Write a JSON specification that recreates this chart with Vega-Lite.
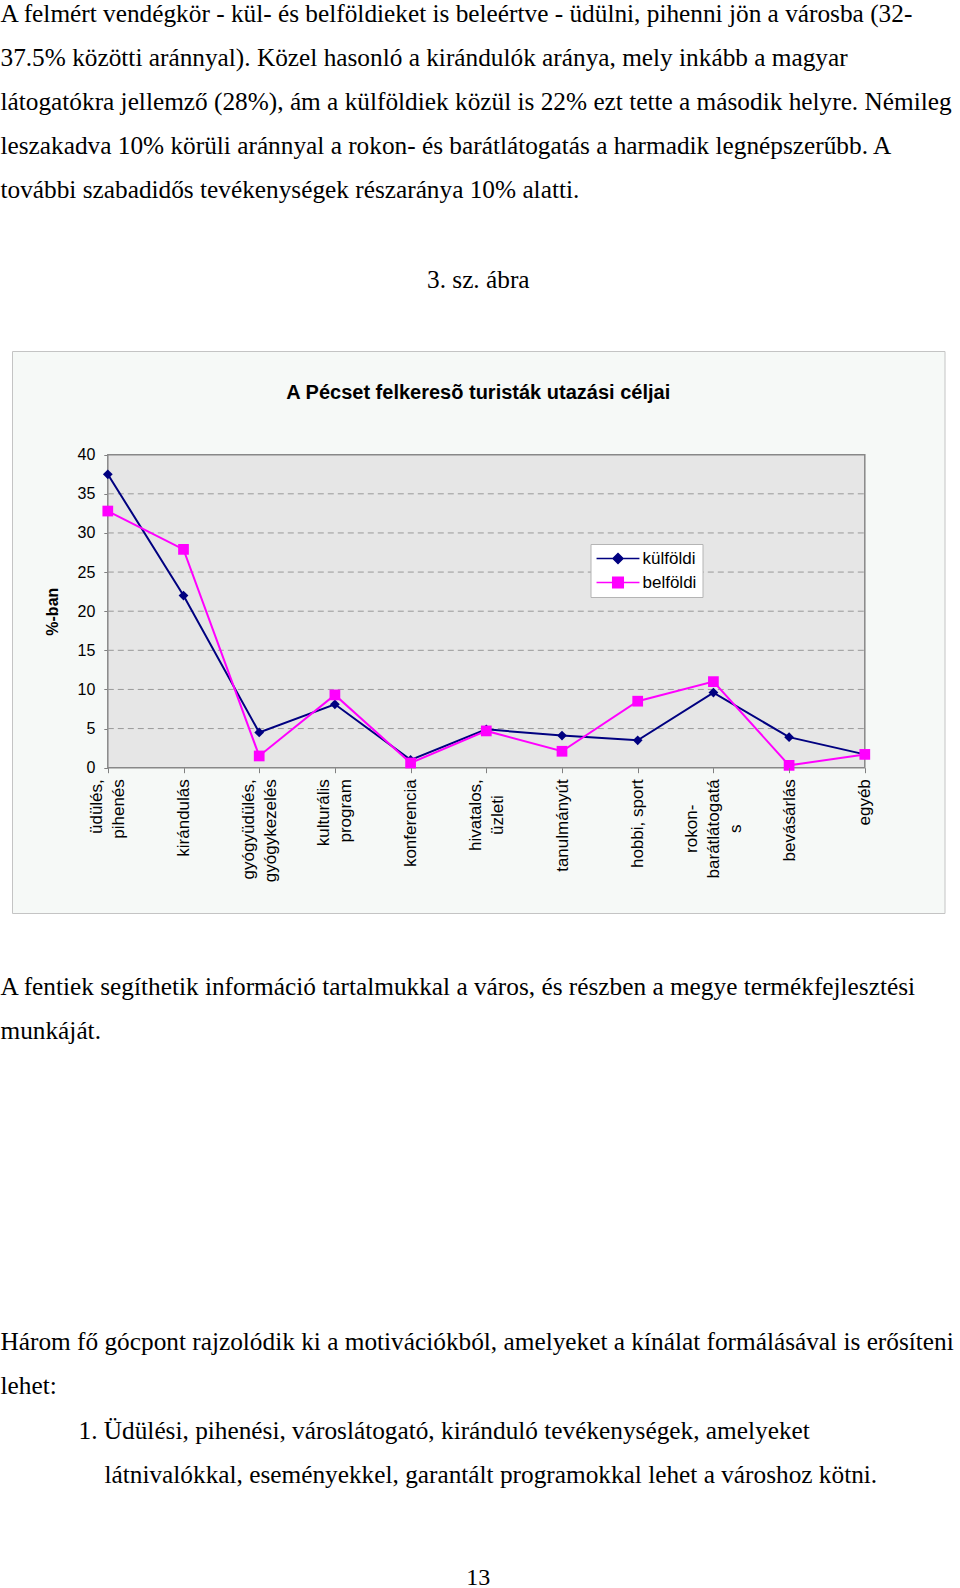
{
  "$schema": "https://vega.github.io/schema/vega-lite/v6.json",
  "padding": {"left": 0, "top": 1, "right": 0, "bottom": 0},
  "background": "white",
  "config": {"view": {"stroke": null}, "font": "Liberation Sans", "concat": {"spacing": 0}},
  "resolve": {"legend": {"color": "independent"}},
  "datasets": {
    "turizmus": [
      {"cel": "üdülés, pihenés", "sorozat": "külföldi", "ertek": 37.5},
      {"cel": "kirándulás", "sorozat": "külföldi", "ertek": 22.0},
      {"cel": "gyógyüdülés, gyógykezelés", "sorozat": "külföldi", "ertek": 4.5},
      {"cel": "kulturális program", "sorozat": "külföldi", "ertek": 8.1},
      {"cel": "konferencia", "sorozat": "külföldi", "ertek": 1.0},
      {"cel": "hivatalos, üzleti", "sorozat": "külföldi", "ertek": 4.9},
      {"cel": "tanulmányút", "sorozat": "külföldi", "ertek": 4.1},
      {"cel": "hobbi, sport", "sorozat": "külföldi", "ertek": 3.5},
      {"cel": "rokon-barátlátogatás", "sorozat": "külföldi", "ertek": 9.6},
      {"cel": "bevásárlás", "sorozat": "külföldi", "ertek": 3.9},
      {"cel": "egyéb", "sorozat": "külföldi", "ertek": 1.7},
      {"cel": "üdülés, pihenés", "sorozat": "belföldi", "ertek": 32.8},
      {"cel": "kirándulás", "sorozat": "belföldi", "ertek": 27.9},
      {"cel": "gyógyüdülés, gyógykezelés", "sorozat": "belföldi", "ertek": 1.5},
      {"cel": "kulturális program", "sorozat": "belföldi", "ertek": 9.3},
      {"cel": "konferencia", "sorozat": "belföldi", "ertek": 0.6},
      {"cel": "hivatalos, üzleti", "sorozat": "belföldi", "ertek": 4.7},
      {"cel": "tanulmányút", "sorozat": "belföldi", "ertek": 2.1},
      {"cel": "hobbi, sport", "sorozat": "belföldi", "ertek": 8.5},
      {"cel": "rokon-barátlátogatás", "sorozat": "belföldi", "ertek": 11.0},
      {"cel": "bevásárlás", "sorozat": "belföldi", "ertek": 0.3},
      {"cel": "egyéb", "sorozat": "belföldi", "ertek": 1.7}
    ],
    "racs": [{"g": 5}, {"g": 10}, {"g": 15}, {"g": 20}, {"g": 25}, {"g": 30}, {"g": 35}],
    "ures": []
  },
  "vconcat": [
    {
      "width": 932.5, "height": 64,
      "data": {"name": "ures"},
      "mark": "text",
      "title": {
        "text": [
          "A felmért vendégkör - kül- és belföldieket is beleértve - üdülni, pihenni jön a városba (32-",
          "37.5% közötti aránnyal). Közel hasonló a kirándulók aránya, mely inkább a magyar",
          "látogatókra jellemző (28%), ám a külföldiek közül is 22% ezt tette a második helyre. Némileg",
          "leszakadva 10% körüli aránnyal a rokon- és barátlátogatás a harmadik legnépszerűbb. A",
          "további szabadidős tevékenységek részaránya 10% alatti."
        ],
        "anchor": "start", "frame": "group", "dx": -11.5, "offset": 0,
        "font": "Liberation Serif", "fontSize": 25.3, "fontWeight": "normal",
        "lineHeight": 44, "color": "black"
      }
    },
    {
      "width": 932.5, "height": 562,
      "view": {"fill": "#f6f9f7", "stroke": "#c4c4c4", "strokeWidth": 1},
      "title": {
        "text": "3. sz. ábra",
        "subtitle": "A Pécset felkeresõ turisták utazási céljai",
        "anchor": "middle", "frame": "group", "offset": -52.1,
        "font": "Liberation Serif", "fontSize": 25.3, "fontWeight": "normal", "color": "black",
        "subtitleFont": "Liberation Sans", "subtitleFontSize": 20, "subtitleFontWeight": "bold",
        "subtitleColor": "black", "subtitlePadding": 90.3
      },
      "layer": [
        {
          "data": {"values": [{}]},
          "mark": {"type": "rect", "fill": "#e6e6e6", "stroke": "#888888", "strokeWidth": 1.5},
          "encoding": {
            "x": {"datum": "üdülés, pihenés", "type": "nominal", "axis": {"title": null},
                  "scale": {"type": "point", "range": [95.8, 852.8], "padding": 0,
                            "domain": ["üdülés, pihenés", "kirándulás", "gyógyüdülés, gyógykezelés", "kulturális program", "konferencia", "hivatalos, üzleti", "tanulmányút", "hobbi, sport", "rokon-barátlátogatás", "bevásárlás", "egyéb"]}},
            "x2": {"datum": "egyéb"},
            "y": {"datum": 0, "type": "quantitative", "axis": {"title": "%-ban"},
                  "scale": {"domain": [0, 40], "range": [416.7, 103.7], "nice": false, "zero": true}},
            "y2": {"datum": 40}
          }
        },
        {
          "data": {"name": "racs"},
          "mark": {"type": "rule", "color": "#999999", "strokeWidth": 1, "strokeDash": [6, 4]},
          "encoding": {
            "x": {"datum": "üdülés, pihenés", "type": "nominal", "axis": {"title": null}},
            "x2": {"datum": "egyéb"},
            "y": {"field": "g", "type": "quantitative", "axis": {"title": "%-ban"}}
          }
        },
        {
          "data": {"name": "turizmus"},
          "mark": {"type": "line", "strokeWidth": 2},
          "encoding": {
            "x": {
              "field": "cel", "type": "nominal", "sort": null,
              "axis": {
                "orient": "bottom", "offset": -145.3, "title": null, "domain": false, "grid": false,
                "ticks": true, "tickSize": 5, "tickColor": "#808080", "tickWidth": 1,
                "labelAngle": -90,
                "labelAlign": {
                  "condition": {"test": "datum.value == 'rokon-barátlátogatás' || datum.value == 'hivatalos, üzleti'", "value": "center"},
                  "value": "right"
                },
                "labelPadding": {
                  "condition": [
                    {"test": "datum.value == 'rokon-barátlátogatás'", "value": 55.6},
                    {"test": "datum.value == 'hivatalos, üzleti'", "value": 41.9}
                  ],
                  "value": 6
                },
                "labelBaseline": "middle",
                "labelFont": "Liberation Sans", "labelFontSize": 17, "labelColor": "black",
                "labelLineHeight": 22, "labelOverlap": false, "labelLimit": 0,
                "labelOffset": {
                  "condition": [
                    {"test": "datum.value == 'rokon-barátlátogatás'", "value": -22},
                    {"test": "indexof(datum.value, ' ') >= 0 && datum.value != 'hobbi, sport'", "value": -11}
                  ],
                  "value": 0
                },
                "labelExpr": "datum.label == 'rokon-barátlátogatás' ? ['rokon-', 'barátlátogatá', 's'] : datum.label == 'hobbi, sport' ? datum.label : split(datum.label, ' ')"
              }
            },
            "y": {
              "field": "ertek", "type": "quantitative",
              "axis": {
                "orient": "left", "offset": -95.8, "values": [0, 5, 10, 15, 20, 25, 30, 35, 40],
                "grid": false, "domain": false, "ticks": true, "tickSize": 4, "tickColor": "#808080",
                "labelFont": "Liberation Sans", "labelFontSize": 16, "labelColor": "black", "labelPadding": 9,
                "title": "%-ban", "titleFont": "Liberation Sans", "titleFontSize": 16, "titleFontWeight": "bold",
                "titleColor": "black", "titleX": -55, "titleBaseline": "middle"
              }
            },
            "color": {
              "field": "sorozat", "type": "nominal",
              "scale": {"domain": ["külföldi", "belföldi"], "range": ["#000080", "#ff00ff"]},
              "legend": {
                "title": null, "orient": "none", "legendX": 578.5, "legendY": 193,
                "fillColor": "white", "strokeColor": "#b4b4b4", "padding": 6, "rowPadding": 6,
                "labelFont": "Liberation Sans", "labelFontSize": 17, "labelColor": "black",
                "symbolSize": 121, "symbolStrokeWidth": 1.5, "symbolOffset": 13, "labelOffset": 16,
                "encode": {
                  "symbols": {
                    "update": {
                      "shape": {"signal": "datum.value === 'külföldi' ? 'M-3.9,0H3.9M0,-0.91L0.91,0L0,0.91L-0.91,0Z' : 'M-3.9,0H3.9M-0.96,-0.96H0.96V0.96H-0.96Z'"},
                      "fill": {"signal": "scale('color', datum.value)"},
                      "stroke": {"signal": "scale('color', datum.value)"},
                      "strokeWidth": {"value": 1.5},
                      "opacity": {"value": 1},
                      "fillOpacity": {"value": 1}
                    }
                  }
                }
              }
            }
          }
        },
        {
          "data": {"name": "turizmus"},
          "transform": [{"filter": "datum.sorozat == 'külföldi'"}],
          "mark": {"type": "point", "shape": "diamond", "filled": true, "size": 95, "color": "#000080", "opacity": 1},
          "encoding": {
            "x": {"field": "cel", "type": "nominal", "sort": null, "axis": {"title": null}},
            "y": {"field": "ertek", "type": "quantitative", "axis": {"title": "%-ban"}}
          }
        },
        {
          "data": {"name": "turizmus"},
          "transform": [{"filter": "datum.sorozat == 'belföldi'"}],
          "mark": {"type": "point", "shape": "square", "filled": true, "size": 115, "color": "#ff00ff", "opacity": 1},
          "encoding": {
            "x": {"field": "cel", "type": "nominal", "sort": null, "axis": {"title": null}},
            "y": {"field": "ertek", "type": "quantitative", "axis": {"title": "%-ban"}}
          }
        }
      ]
    },
    {
      "width": 932.5, "height": 60.7,
      "data": {"name": "ures"},
      "mark": "text",
      "title": {
        "text": [
          "A fentiek segíthetik információ tartalmukkal a város, és részben a megye termékfejlesztési",
          "munkáját."
        ],
        "subtitle": [
          "Három fő gócpont rajzolódik ki a motivációkból, amelyeket a kínálat formálásával is erősíteni",
          "lehet:"
        ],
        "orient": "bottom", "anchor": "start", "frame": "group", "dx": -11.5, "offset": 0,
        "font": "Liberation Serif", "fontSize": 25.3, "fontWeight": "normal", "lineHeight": 44, "color": "black",
        "subtitleFont": "Liberation Serif", "subtitleFontSize": 25.3, "subtitleFontWeight": "normal",
        "subtitleLineHeight": 44, "subtitleColor": "black", "subtitlePadding": 286.4
      }
    },
    {
      "width": 932.5, "height": 19.2,
      "data": {"name": "ures"},
      "mark": "text",
      "title": {
        "text": "1. Üdülési, pihenési, városlátogató, kiránduló tevékenységek, amelyeket",
        "orient": "bottom", "anchor": "start", "frame": "group", "dx": 66.5, "offset": 0,
        "font": "Liberation Serif", "fontSize": 25.3, "fontWeight": "normal", "color": "black"
      }
    },
    {
      "width": 932.5, "height": 18.4,
      "data": {"name": "ures"},
      "mark": "text",
      "title": {
        "text": "látnivalókkal, eseményekkel, garantált programokkal lehet a városhoz kötni.",
        "orient": "bottom", "anchor": "start", "frame": "group", "dx": 92.5, "offset": 0,
        "font": "Liberation Serif", "fontSize": 25.3, "fontWeight": "normal", "color": "black"
      }
    },
    {
      "width": 932.5, "height": 77,
      "data": {"name": "ures"},
      "mark": "text",
      "title": {
        "text": "13",
        "orient": "bottom", "anchor": "middle", "frame": "group", "offset": 0,
        "font": "Liberation Serif", "fontSize": 24, "fontWeight": "normal", "color": "black"
      }
    }
  ]
}
